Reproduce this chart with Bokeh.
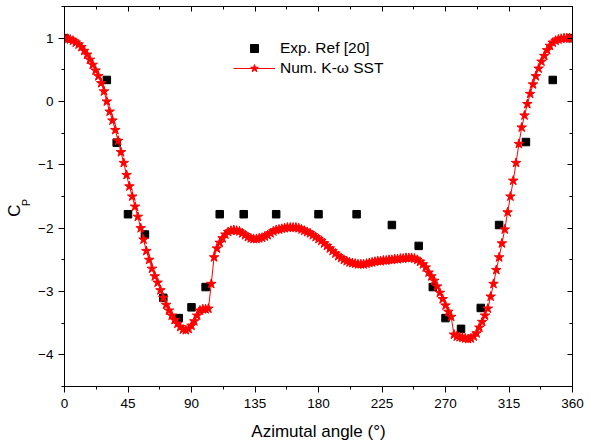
from bokeh.plotting import figure
from bokeh.models import (LinearAxis, FixedTicker, Range1d, Legend,
                          LegendItem)
from bokeh.embed import file_html
from bokeh.resources import INLINE

# ---- data ----
NUM_ANGLE = list(range(0, 361, 2))
NUM_CP = [
    1.00, 0.99, 0.98, 0.96, 0.93, 0.90, 0.86, 0.80, 0.74, 0.66,
    0.58, 0.49, 0.40, 0.29, 0.16, 0.00, -0.16, -0.30, -0.45, -0.62,
    -0.80, -0.97, -1.16, -1.34, -1.50, -1.66, -1.82, -2.00, -2.18, -2.36,
    -2.50, -2.64, -2.76, -2.86, -2.98, -3.10, -3.21, -3.30, -3.38, -3.45,
    -3.51, -3.56, -3.60, -3.61, -3.59, -3.54, -3.47, -3.38, -3.30, -3.28,
    -3.28, -3.27, -2.88, -2.46, -2.32, -2.23, -2.16, -2.10, -2.06, -2.04,
    -2.03, -2.04, -2.05, -2.08, -2.11, -2.14, -2.16, -2.17, -2.17, -2.16,
    -2.15, -2.13, -2.11, -2.08, -2.05, -2.03, -2.02, -2.01, -2.00, -1.99,
    -1.99, -1.99, -1.99, -2.00, -2.02, -2.04, -2.06, -2.08, -2.11, -2.14,
    -2.17, -2.20, -2.24, -2.28, -2.32, -2.36, -2.40, -2.44, -2.47, -2.50,
    -2.52, -2.54, -2.55, -2.56, -2.57, -2.57, -2.57, -2.56, -2.55, -2.54,
    -2.53, -2.52, -2.52, -2.51, -2.51, -2.50, -2.50, -2.49, -2.49, -2.48,
    -2.48, -2.47, -2.47, -2.47, -2.48, -2.50, -2.53, -2.57, -2.62, -2.70,
    -2.76, -2.83, -2.92, -3.02, -3.12, -3.22, -3.32, -3.40, -3.68, -3.71,
    -3.72, -3.73, -3.74, -3.75, -3.74, -3.71, -3.66, -3.57, -3.48, -3.38,
    -3.27, -3.08, -2.88, -2.66, -2.46, -2.24, -2.02, -1.75, -1.50, -1.25,
    -0.97, -0.67, -0.41, -0.22, -0.04, 0.12, 0.27, 0.40, 0.52, 0.63,
    0.72, 0.81, 0.88, 0.93, 0.96, 0.98, 0.99, 1.00, 1.00, 1.00,
    1.00,
]

EXP_ANGLE = [0, 30, 37, 45, 57, 70, 81, 90, 100, 110, 127, 150, 180, 207,
             232, 251, 261, 270, 281, 295, 308, 327, 346, 359]
EXP_CP = [1.0, 0.34, -0.65, -1.78, -2.10, -3.10, -3.42, -3.25, -2.93, -1.78,
          -1.78, -1.78, -1.78, -1.78, -1.95, -2.28, -2.93, -3.42, -3.59,
          -3.26, -1.95, -0.64, 0.34, 1.0]

X_TICKS = [0, 45, 90, 135, 180, 225, 270, 315, 360]
X_MINOR = [22.5, 67.5, 112.5, 157.5, 202.5, 247.5, 292.5, 337.5]
Y_TICKS = [-4, -3, -2, -1, 0, 1]
Y_MINOR = [-4.5, -3.5, -2.5, -1.5, -0.5, 0.5, 1.5]

X_LABEL = "Azimutal angle (°)"
Y_LABEL_MAIN = "C"
Y_LABEL_SUB = "P"
LEG_EXP = "Exp. Ref [20]"
LEG_NUM = "Num. K-ω SST"

FONT = "Liberation Sans"
NBSP = "\u00a0"

p = figure(width=589, height=445, x_range=Range1d(0, 360),
           y_range=Range1d(-4.5, 1.5), output_backend="svg",
           toolbar_location=None, min_border_left=64, min_border_right=17,
           min_border_top=6, min_border_bottom=59)
p.background_fill_color = "white"
p.border_fill_color = "white"
p.outline_line_color = "black"
p.outline_line_width = 1
p.grid.visible = False

xt = FixedTicker(ticks=X_TICKS, minor_ticks=X_MINOR)
yt = FixedTicker(ticks=Y_TICKS, minor_ticks=Y_MINOR)

for ax in p.xaxis:
    ax.ticker = xt
    ax.major_label_standoff = 6
    ax.axis_label = X_LABEL
    ax.axis_label_text_font = FONT
    ax.axis_label_text_font_size = "17px"
    ax.axis_label_text_font_style = "normal"
    ax.axis_label_text_color = "black"
    ax.axis_label_standoff = 11
for ax in p.yaxis:
    ax.ticker = yt
    ax.major_label_standoff = 5
for ax in list(p.xaxis) + list(p.yaxis):
    ax.axis_line_color = "black"
    ax.major_tick_line_color = "black"
    ax.minor_tick_line_color = "black"
    ax.major_tick_out = 6
    ax.major_tick_in = 0
    ax.minor_tick_out = 3
    ax.minor_tick_in = 0
    ax.major_label_text_font = FONT
    ax.major_label_text_font_size = "13.5px"
    ax.major_label_text_color = "black"

top = LinearAxis(ticker=FixedTicker(ticks=X_TICKS, minor_ticks=X_MINOR),
                 major_label_overrides={t: "" for t in X_TICKS},
                 major_label_text_font_size="0px", major_label_standoff=0,
                 major_tick_in=5, major_tick_out=0, minor_tick_in=3,
                 minor_tick_out=0, axis_line_color="black")
p.add_layout(top, "above")
right = LinearAxis(ticker=FixedTicker(ticks=Y_TICKS, minor_ticks=Y_MINOR),
                   major_label_overrides={t: "" for t in Y_TICKS},
                   major_label_text_font_size="0px", major_label_standoff=0,
                   major_tick_in=5, major_tick_out=0, minor_tick_in=3,
                   minor_tick_out=0, axis_line_color="black")
p.add_layout(right, "right")


def label_axis(text, size, standoff):
    ax = LinearAxis(ticker=FixedTicker(ticks=[]),
                    axis_line_color=None, major_tick_line_color=None,
                    minor_tick_line_color=None, major_tick_out=0,
                    minor_tick_out=0, major_tick_in=0, minor_tick_in=0,
                    major_label_standoff=0, axis_label=text,
                    axis_label_standoff=standoff,
                    axis_label_text_font=FONT,
                    axis_label_text_font_size=size,
                    axis_label_text_font_style="normal",
                    axis_label_text_color="black")
    p.add_layout(ax, "left")
    return ax


# subscript first (closer to the frame), then the main letter;
# trailing no-break spaces push each letter below the frame's middle
label_axis(Y_LABEL_SUB + NBSP * 4, "11px", 4)
label_axis(Y_LABEL_MAIN + NBSP * 6, "17px", -7)

sq = p.scatter(EXP_ANGLE, EXP_CP, marker="square", size=7.5,
               fill_color="black", line_color="black")
ln = p.line(NUM_ANGLE, NUM_CP, line_color="red", line_width=1)
st = p.scatter(NUM_ANGLE, NUM_CP, marker="star", size=10,
               fill_color="red", line_color="red")

legend = Legend(items=[LegendItem(label=LEG_EXP, renderers=[sq]),
                       LegendItem(label=LEG_NUM, renderers=[ln, st])],
                location=(169, 308), glyph_width=42, glyph_height=20,
                label_standoff=5, spacing=0, padding=0, margin=0,
                border_line_alpha=0, background_fill_alpha=0,
                label_text_font=FONT, label_text_font_size="15.5px",
                label_text_color="black")
p.add_layout(legend)

open("out.html", "w").write(file_html(p, INLINE))
